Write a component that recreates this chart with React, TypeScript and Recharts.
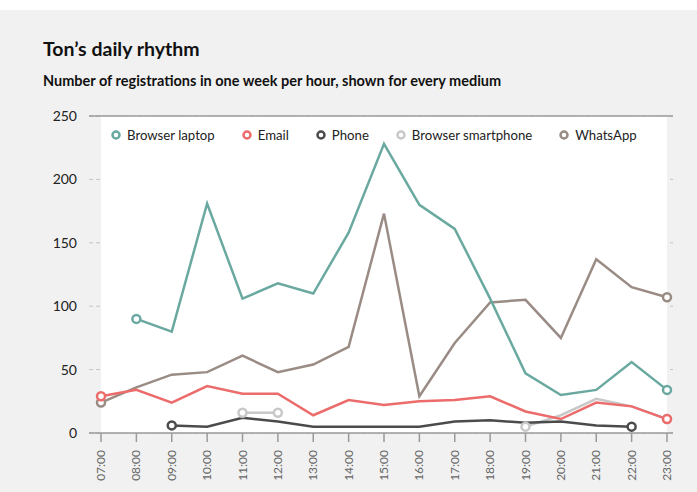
import React from 'react';
import {
  LineChart,
  Line,
  XAxis,
  YAxis,
  CartesianGrid,
  Legend,
  ReferenceArea,
  ReferenceLine,
} from 'recharts';

const hours = [
  '07:00', '08:00', '09:00', '10:00', '11:00', '12:00', '13:00', '14:00', '15:00',
  '16:00', '17:00', '18:00', '19:00', '20:00', '21:00', '22:00', '23:00',
];

const browserLaptop = [null, 90, 80, 181, 106, 118, 110, 158, 228, 180, 161, 106, 47, 30, 34, 56, 34];
const email = [29, 34, 24, 37, 31, 31, 14, 26, 22, 25, 26, 29, 17, 11, 24, 21, 11];
const phone = [null, null, 6, 5, 12, 9, 5, 5, 5, 5, 9, 10, 8, 9, 6, 5, null];
const browserSmartphone = [null, null, null, null, 16, 16, null, null, null, null, null, null, 5, 14, 27, 21, 11];
const whatsApp = [24, 36, 46, 48, 61, 48, 54, 68, 173, 29, 71, 103, 105, 75, 137, 115, 107];

const yTicks = [0, 50, 100, 150, 200, 250];

const series = [
  { key: 'laptop', name: 'Browser laptop', values: browserLaptop, color: '#6aa9a0' },
  { key: 'email', name: 'Email', values: email, color: '#ec6b6b' },
  { key: 'phone', name: 'Phone', values: phone, color: '#4b4b4b' },
  { key: 'smartphone', name: 'Browser smartphone', values: browserSmartphone, color: '#c8c8c8' },
  { key: 'whatsapp', name: 'WhatsApp', values: whatsApp, color: '#9a8c85' },
];

// drawing order: email goes over the light smartphone line
const drawOrder = ['smartphone', 'phone', 'whatsapp', 'laptop', 'email'];

const data = hours.map((hour, i) => {
  const row: Record<string, any> = { hour };
  series.forEach((s) => {
    row[s.key] = s.values[i];
  });
  return row;
});

const FONT = 'Lato, "Open Sans", sans-serif';

// circle only at the ends of each unbroken piece of line
function endDot(values: (number | null)[], color: string) {
  return (props: any) => {
    const { cx, cy, index } = props;
    const v = values[index];
    const prev = index > 0 ? values[index - 1] : null;
    const next = index < values.length - 1 ? values[index + 1] : null;
    if (v == null || (prev != null && next != null)) return <g key={index} />;
    return (
      <circle key={index} cx={cx} cy={cy} r={4} fill="#fff" stroke={color} strokeWidth={2.5} />
    );
  };
}

const HourTick = (props: any) => {
  const { x, y, payload } = props;
  return (
    <text
      x={x}
      y={y}
      dy={4}
      transform={`rotate(-90, ${x}, ${y})`}
      textAnchor="end"
      fill="#666"
      fontSize={12}
      fontFamily={FONT}
    >
      {payload.value}
    </text>
  );
};

const LegendContent = () => (
  <div style={{ display: 'flex', alignItems: 'center', fontFamily: FONT, fontSize: 13.2, color: '#222' }}>
    {series.map((s) => (
      <div key={s.key} style={{ display: 'flex', alignItems: 'center', marginRight: 27, lineHeight: '16px' }}>
        <svg width={10} height={10} style={{ marginRight: 6 }}>
          <circle cx={5} cy={5} r={3.5} fill="#fff" stroke={s.color} strokeWidth={2.5} />
        </svg>
        <span>{s.name}</span>
      </div>
    ))}
  </div>
);

export default function App() {
  return (
    <div style={{ position: 'absolute', left: 0, top: 0, width: 697, height: 492, background: '#fff' }}>
      <div style={{ position: 'absolute', left: 0, top: 10, width: 697, height: 482, background: '#f1f1f1' }} />
      <div
        style={{
          position: 'absolute', left: 43, top: 39, fontFamily: FONT, fontSize: 19.5,
          lineHeight: '20px', fontWeight: 700, color: '#111',
        }}
      >
        Ton’s daily rhythm
      </div>
      <div
        style={{
          position: 'absolute', left: 43, top: 73, fontFamily: FONT, fontSize: 14.5,
          lineHeight: '15px', fontWeight: 700, color: '#111',
        }}
      >
        Number of registrations in one week per hour, shown for every medium
      </div>
      <div style={{ position: 'absolute', left: 0, top: 0 }}>
        <LineChart width={697} height={492} data={data} margin={{ top: 116, right: 24, bottom: 4, left: 49 }}>
          <ReferenceArea x1="07:00" x2="23:00" y1={0} y2={250} fill="#fff" fillOpacity={1} stroke="none" />
          <CartesianGrid vertical={false} stroke="#c4c4c4" strokeDasharray="4 3" />
          <ReferenceLine y={250} stroke="#9a9a9a" strokeWidth={1.5} />
          <XAxis
            dataKey="hour"
            interval={0}
            padding={{ left: 12, right: 6 }}
            height={55}
            tickSize={9}
            tickMargin={8}
            tick={<HourTick />}
            axisLine={{ stroke: '#9a9a9a', strokeWidth: 1.5 }}
            tickLine={{ stroke: '#9a9a9a', strokeWidth: 1.5 }}
          />
          <YAxis
            width={40}
            domain={[0, 250]}
            ticks={yTicks}
            axisLine={false}
            tickLine={false}
            tickMargin={6}
            tick={{ fill: '#222', fontSize: 14, fontFamily: FONT }}
          />
          <Legend
            verticalAlign="middle"
            layout="horizontal"
            content={<LegendContent />}
            wrapperStyle={{ top: 127, left: 111, width: 'auto' }}
          />
          {drawOrder.map((k) => {
            const s = series.find((x) => x.key === k)!;
            return (
              <Line
                key={s.key}
                dataKey={s.key}
                name={s.name}
                stroke={s.color}
                strokeWidth={2.5}
                dot={endDot(s.values, s.color)}
                activeDot={false}
                isAnimationActive={false}
              />
            );
          })}
        </LineChart>
      </div>
    </div>
  );
}
